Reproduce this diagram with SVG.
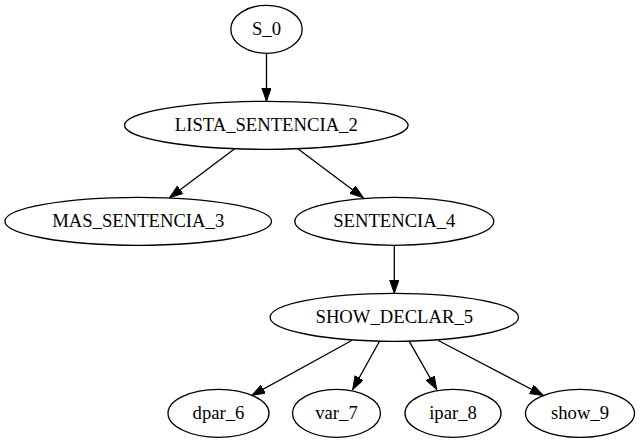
<svg xmlns="http://www.w3.org/2000/svg" width="640" height="443" viewBox="0 0 640 443">
<defs>
<style>
ellipse{fill:none;stroke:#000;stroke-width:1.33}
.t{font-family:'Liberation Serif','Times New Roman',Times,serif;font-size:18.67px;text-anchor:middle;fill:#000}
.e path{fill:none;stroke:#000;stroke-width:1.33}
</style>
<marker id="ah" markerUnits="userSpaceOnUse" markerWidth="14" markerHeight="10" refX="13.33" refY="4.67" orient="auto">
<path d="M0,0 L13.33,4.67 L0,9.33 z" fill="#000" stroke="#000" stroke-width="1"/>
</marker>
</defs>
<rect width="640" height="443" fill="#fff"/>
<g id="edges" class="e">
<path d="M266.5,53.3 L266.5,101.3" marker-end="url(#ah)"/>
<path d="M235,148.5 L169.6,197.7" marker-end="url(#ah)"/>
<path d="M297.5,148.5 L363.2,197.7" marker-end="url(#ah)"/>
<path d="M394.3,245.3 L394.3,293.3" marker-end="url(#ah)"/>
<path d="M351.7,340.5 L251.7,395.5" marker-end="url(#ah)"/>
<path d="M379.5,341.3 L352.7,389.5" marker-end="url(#ah)"/>
<path d="M409.3,341.3 L436.7,389.5" marker-end="url(#ah)"/>
<path d="M438.3,340.5 L543.3,395.5" marker-end="url(#ah)"/>
</g>
<g class="t" font-family="'Liberation Serif', serif">
<g id="S_0"><ellipse cx="266.5" cy="29.3" rx="35.7" ry="24"/><text x="266.5" y="35">S_0</text></g>
<g id="LISTA_SENTENCIA_2"><ellipse cx="266.3" cy="125.3" rx="141.8" ry="24"/><text x="266.3" y="131">LISTA_SENTENCIA_2</text></g>
<g id="MAS_SENTENCIA_3"><ellipse cx="138.2" cy="221.3" rx="133.3" ry="24"/><text x="138.2" y="227">MAS_SENTENCIA_3</text></g>
<g id="SENTENCIA_4"><ellipse cx="394.3" cy="221.3" rx="99.5" ry="24"/><text x="394.3" y="227">SENTENCIA_4</text></g>
<g id="SHOW_DECLAR_5"><ellipse cx="394.3" cy="317.3" rx="124.2" ry="24"/><text x="394.3" y="323">SHOW_DECLAR_5</text></g>
<g id="dpar_6"><ellipse cx="218.5" cy="413.3" rx="50.5" ry="24"/><text x="218.5" y="419">dpar_6</text></g>
<g id="var_7"><ellipse cx="336.5" cy="413.3" rx="44" ry="24"/><text x="336.5" y="419">var_7</text></g>
<g id="ipar_8"><ellipse cx="453" cy="413.3" rx="48" ry="24"/><text x="453" y="419">ipar_8</text></g>
<g id="show_9"><ellipse cx="580" cy="413.3" rx="54.5" ry="24"/><text x="580" y="419">show_9</text></g>
</g>
</svg>
